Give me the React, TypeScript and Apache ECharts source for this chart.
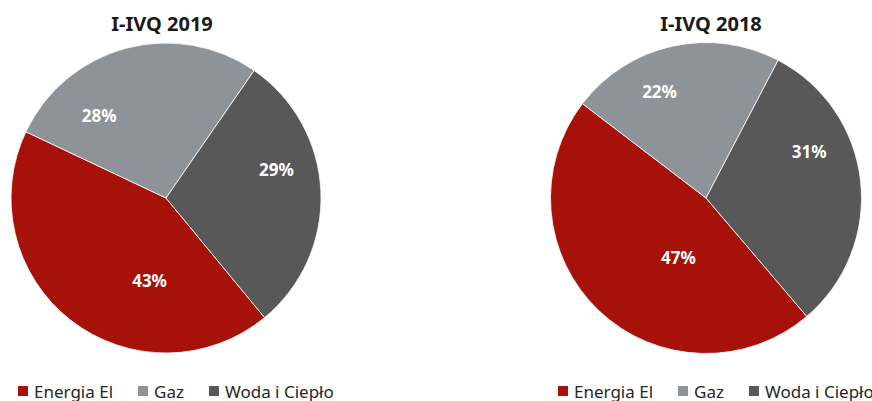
import React, { useEffect, useRef } from "react";
import * as echarts from "echarts";

const categories = ["Energia El", "Gaz", "Woda i Ciepło"];
const values2019 = [43.0, 27.6, 29.4];
const values2018 = [46.6, 22.3, 31.1];
const chartTitles = ["I-IVQ 2019", "I-IVQ 2018"];

const COLORS = ["#A6110A", "#8E9399", "#585858"];
const FONT = "'Noto Sans', 'DejaVu Sans', sans-serif";

export default function App() {
  const ref = useRef<HTMLDivElement>(null);

  useEffect(() => {
    document.body.style.margin = "0";
    if (!ref.current) return;
    const chart = echarts.init(ref.current, undefined, { renderer: "svg" });

    const labelShift: Record<number, number[][]> = {
      0: [
        [33, 19],
        [-46, -5],
        [30, -25],
      ],
      1: [
        [28, 1],
        [-29, -28],
        [23, -38],
      ],
    };

    const makeSeries = (vals: number[], center: number[], radius: number, startAngle: number) => ({
      type: "pie",
      center,
      radius,
      startAngle,
      clockwise: true,
      avoidLabelOverlap: false,
      data: categories.map((name, i) => ({ name, value: vals[i] })),
      itemStyle: { borderColor: "#ffffff", borderWidth: 0.8 },
      label: {
        show: true,
        position: "inside",
        formatter: (p: any) => Math.round(p.value) + "%",
        color: "#ffffff",
        fontFamily: FONT,
        fontWeight: "bold",
        fontSize: 17,
      },
      labelLine: { show: false },
      emphasis: { disabled: true },
      labelLayout: (p: any) => {
        const s = labelShift[p.seriesIndex][p.dataIndex];
        return { dx: s[0], dy: s[1] };
      },
    });

    const legendBase = {
      orient: "horizontal",
      top: 380,
      width: 420,
      padding: 0,
      icon: "rect",
      itemWidth: 12,
      itemHeight: 12,
      itemGap: 23,
      selectedMode: false,
      data: categories,
      textStyle: { fontFamily: FONT, fontSize: 17, color: "#262626", lineHeight: 22 },
    };

    chart.setOption({
      animation: false,
      color: COLORS,
      legend: [
        { ...legendBase, left: 16 },
        { ...legendBase, left: 556 },
      ],
      graphic: [
        {
          type: "text",
          x: 162,
          y: 23,
          style: {
            text: chartTitles[0],
            textAlign: "center",
            textVerticalAlign: "middle",
            font: `bold 20px ${FONT}`,
            fill: "#1a1a1a",
          },
        },
        {
          type: "text",
          x: 711,
          y: 23,
          style: {
            text: chartTitles[1],
            textAlign: "center",
            textVerticalAlign: "middle",
            font: `bold 20px ${FONT}`,
            fill: "#1a1a1a",
          },
        },
      ],
      series: [
        makeSeries(values2019, [166, 198], 155, 309.5),
        makeSeries(values2018, [706, 198], 155.5, 310.4),
      ],
    });

    return () => chart.dispose();
  }, []);

  return <div ref={ref} style={{ width: 872, height: 401 }} />;
}
